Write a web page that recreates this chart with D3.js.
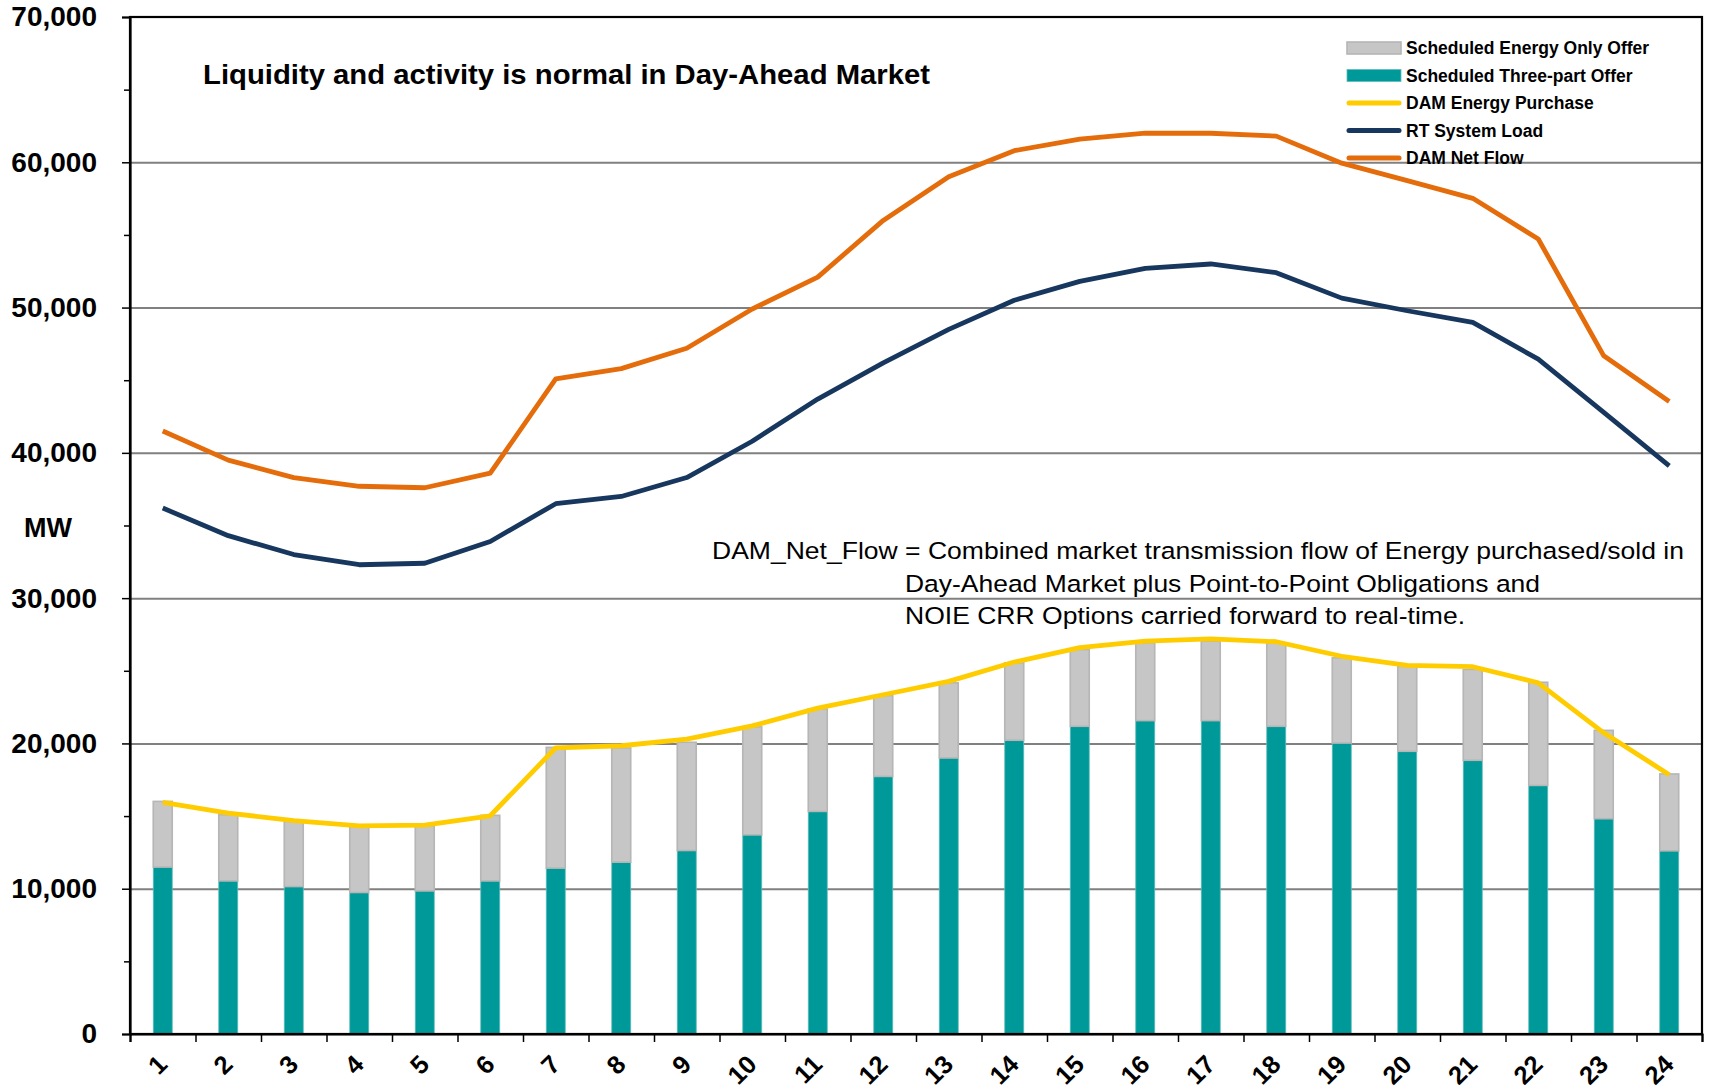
<!DOCTYPE html>
<html>

<head>
  <meta charset="utf-8">
  <title>Day-Ahead Market</title>
  <script type="text/javascript" src="https://cdn.jsdelivr.net/npm/d3@7"></script>
  <style>
    body { margin: 0; background: #fff; }
    text { font-family: "Liberation Sans", Arial, sans-serif; }
  </style>
</head>

<body>
  <script type="text/javascript">

    // Data (MW)
    const hours = ["1", "2", "3", "4", "5", "6", "7", "8", "9", "10", "11", "12",
      "13", "14", "15", "16", "17", "18", "19", "20", "21", "22", "23", "24"];
    const threePartOffer = [11490, 10540, 10150, 9740, 9850, 10540, 11420, 11830, 12630, 13710, 15320, 17730,
      19000, 20220, 21180, 21570, 21570, 21180, 20030, 19460, 18840, 17110, 14820, 12610];
    const energyOnlyOffer = [4520, 4550, 4480, 4550, 4480, 4510, 8310, 7860, 7450, 7430, 7060, 5560,
      5170, 5330, 5280, 5360, 5470, 5750, 5860, 5850, 6250, 7100, 6080, 5290];
    const damEnergyPurchase = [15940, 15210, 14680, 14330, 14380, 15020, 19700, 19840, 20300, 21210, 22430, 23350,
      24270, 25600, 26600, 27040, 27200, 27000, 26000, 25370, 25280, 24170, 20730, 17850];
    const rtSystemLoad = [36200, 34300, 33000, 32300, 32400, 33900, 36500, 37000, 38300, 40800, 43700, 46200,
      48500, 50500, 51800, 52700, 53000, 52400, 50650, 49780, 48980, 46450, 42780, 39100];
    const damNetFlow = [41500, 39500, 38300, 37700, 37600, 38600, 45100, 45800, 47200, 49900, 52100, 56000,
      59000, 60800, 61600, 62000, 62000, 61800, 59940, 58740, 57520, 54720, 46680, 43530];
    const yTicks = [0, 10000, 20000, 30000, 40000, 50000, 60000, 70000];
    const yMinorTicks = [5000, 15000, 25000, 35000, 45000, 55000, 65000];
    const legendLabels = ["Scheduled Energy Only Offer", "Scheduled Three-part Offer",
      "DAM Energy Purchase", "RT System Load", "DAM Net Flow"];
    const title = "Liquidity and activity is normal in Day-Ahead Market";
    const note = ["DAM_Net_Flow = Combined market transmission flow of Energy purchased/sold in",
      "Day-Ahead Market plus Point-to-Point Obligations and",
      "NOIE CRR Options carried forward to real-time."];

    const colors = {
      energyOnly: "#c6c6c6", threePart: "#009999", purchase: "#ffcc00",
      load: "#17375e", netFlow: "#e46c0a"
    };

    // Size
    const W = 1709, H = 1090;
    const plotLeft = 130, plotRight = 1702, plotTop = 17, plotBottom = 1034;

    const svg = d3.select("body")
      .append("svg")
      .attr("width", W)
      .attr("height", H);

    // Scales
    const xScale = d3.scaleBand()
      .domain(hours)
      .range([plotLeft, plotRight]);

    const xEdges = d3.scaleLinear()
      .domain([0, hours.length])
      .range([plotLeft, plotRight]);

    const yScale = d3.scaleLinear()
      .domain([0, 70000])
      .range([plotBottom, plotTop]);

    const cx = function (i) { return xScale(hours[i]) + xScale.bandwidth() / 2; };

    // Gridlines
    svg.append("g")
      .attr("transform", "translate(" + plotLeft + ",0)")
      .call(d3.axisLeft(yScale).tickValues(yTicks.slice(1, -1)).tickSize(-(plotRight - plotLeft)).tickFormat(""))
      .call(function (g) { g.select(".domain").remove(); })
      .selectAll("line")
      .attr("stroke", "#808080")
      .attr("stroke-width", 2);

    // Stacked bars
    const table = hours.map(function (h, i) {
      return { hour: h, threePart: threePartOffer[i], energyOnly: energyOnlyOffer[i] };
    });
    const stacked = d3.stack().keys(["threePart", "energyOnly"])(table);
    const barW = xScale.bandwidth() * 0.29;

    svg.selectAll("g.series")
      .data(stacked)
      .enter()
      .append("g")
      .attr("class", "series")
      .attr("fill", function (s) { return colors[s.key]; })
      .attr("stroke", function (s) { return s.key === "energyOnly" ? "#b6b6b6" : "#5fbcbc"; })
      .attr("stroke-width", function (s) { return s.key === "energyOnly" ? 1.6 : 0.8; })
      .selectAll("rect")
      .data(function (s) { return s; })
      .enter()
      .append("rect")
      .attr("x", function (d) { return xScale(d.data.hour) + (xScale.bandwidth() - barW) / 2; })
      .attr("y", function (d) { return yScale(d[1]); })
      .attr("width", barW)
      .attr("height", function (d) { return yScale(d[0]) - yScale(d[1]); });

    // Lines
    const line = d3.line()
      .x(function (d, i) { return cx(i); })
      .y(function (d) { return yScale(d); });

    [[damEnergyPurchase, colors.purchase], [rtSystemLoad, colors.load], [damNetFlow, colors.netFlow]]
      .forEach(function (s) {
        svg.append("path")
          .datum(s[0])
          .attr("d", line)
          .attr("fill", "none")
          .attr("stroke", s[1])
          .attr("stroke-width", 4.8)
          .attr("stroke-linejoin", "round");
      });

    // Frame
    svg.append("rect")
      .attr("x", plotLeft)
      .attr("y", plotTop)
      .attr("width", plotRight - plotLeft)
      .attr("height", plotBottom - plotTop)
      .attr("fill", "none")
      .attr("stroke", "#000")
      .attr("stroke-width", 2.2);

    // Y axis
    const yAxis = svg.append("g")
      .attr("transform", "translate(" + plotLeft + ",0)")
      .call(d3.axisLeft(yScale).tickValues(yTicks).tickSize(8).tickPadding(25).tickFormat(d3.format(",")));
    yAxis.select(".domain").attr("stroke-width", 2.2);
    yAxis.selectAll("line").attr("stroke-width", 1.5);
    yAxis.selectAll("text")
      .attr("font-size", 28)
      .attr("font-weight", "bold")
      .attr("font-family", "Liberation Sans, Arial, sans-serif")
      .attr("fill", "#000");

    svg.append("g")
      .attr("transform", "translate(" + plotLeft + ",0)")
      .call(d3.axisLeft(yScale).tickValues(yMinorTicks).tickSize(6).tickFormat(""))
      .call(function (g) { g.select(".domain").remove(); })
      .selectAll("line").attr("stroke-width", 1.5);

    // X axis
    const xAxis = svg.append("g")
      .attr("transform", "translate(0," + plotBottom + ")")
      .call(d3.axisBottom(xEdges).ticks(hours.length).tickSize(8).tickFormat(""));
    xAxis.select(".domain").attr("stroke-width", 2.2);
    xAxis.selectAll("line").attr("stroke-width", 1.5);

    svg.selectAll("text.xlabel")
      .data(hours)
      .enter()
      .append("text")
      .attr("class", "xlabel")
      .attr("transform", function (d, i) { return "translate(" + (cx(i) + 6) + ",1066) rotate(-45)"; })
      .attr("text-anchor", "end")
      .attr("font-size", 25.5)
      .attr("font-weight", "bold")
      .text(function (d) { return d; });

    // MW label
    svg.append("text")
      .attr("x", 24)
      .attr("y", 528)
      .attr("dy", "0.35em")
      .attr("font-size", 27)
      .attr("font-weight", "bold")
      .text("MW");

    // Title
    svg.append("text")
      .attr("x", 203)
      .attr("y", 84)
      .attr("font-size", 28)
      .attr("font-weight", "bold")
      .attr("textLength", 727)
      .attr("lengthAdjust", "spacingAndGlyphs")
      .text(title);

    // Note
    const noteX = [712, 905, 905];
    const noteLen = [972, 635, 560];
    svg.selectAll("text.note")
      .data(note)
      .enter()
      .append("text")
      .attr("class", "note")
      .attr("x", function (d, i) { return noteX[i]; })
      .attr("y", function (d, i) { return 559 + i * 32.5; })
      .attr("font-size", 24.5)
      .attr("textLength", function (d, i) { return noteLen[i]; })
      .attr("lengthAdjust", "spacingAndGlyphs")
      .text(function (d) { return d; });

    // Legend
    const legendKeys = ["energyOnly", "threePart", "purchase", "load", "netFlow"];
    const legend = svg.selectAll("g.legend")
      .data(legendLabels)
      .enter()
      .append("g")
      .attr("class", "legend")
      .attr("transform", function (d, i) { return "translate(1347," + (48 + i * 27.5) + ")"; });

    legend.each(function (d, i) {
      const g = d3.select(this);
      if (i < 2) {
        g.append("rect")
          .attr("x", 0)
          .attr("y", -6)
          .attr("width", 54)
          .attr("height", 12)
          .attr("fill", colors[legendKeys[i]])
          .attr("stroke", i === 0 ? "#b6b6b6" : "#5fbcbc")
          .attr("stroke-width", i === 0 ? 1.6 : 0.8);
      } else {
        g.append("line")
          .attr("x1", 2)
          .attr("x2", 52)
          .attr("stroke", colors[legendKeys[i]])
          .attr("stroke-width", 5)
          .attr("stroke-linecap", "round");
      }
      g.append("text")
        .attr("x", 59)
        .attr("dy", "0.36em")
        .attr("font-size", 17.5)
        .attr("font-weight", "bold")
        .text(d);
    });
  </script>
</body>

</html>
